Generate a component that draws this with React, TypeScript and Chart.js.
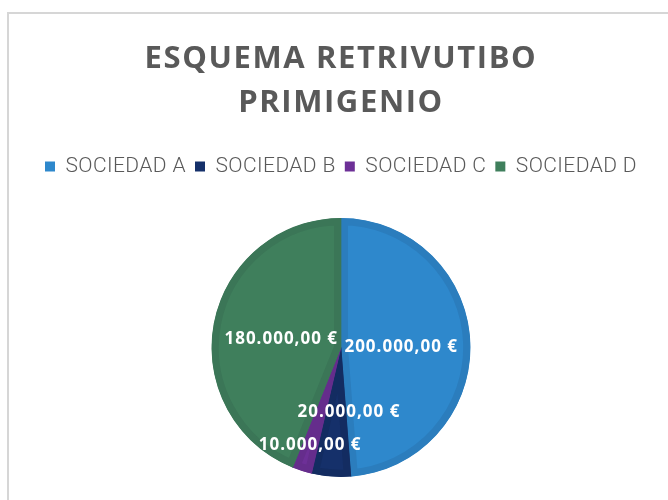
import React, { useEffect, useRef } from "react";
import { Chart, registerables } from "chart.js";

Chart.register(...registerables);

const CATEGORIES = ["SOCIEDAD A", "SOCIEDAD B", "SOCIEDAD C", "SOCIEDAD D"];
const VALUES = [200000, 20000, 10000, 180000];
const COLORS = ["#2E88CC", "#15306A", "#6D3097", "#3F7F5C"];
const BORDER_COLORS = ["#2B7DBD", "#132C61", "#652D8C", "#3B7657"];
const TITLE_LINES = ["ESQUEMA RETRIVUTIBO", "PRIMIGENIO"];
const LABEL_RADIUS = [0.465, 0.5, 0.79, 0.466];
const LABEL_ANGLE_SHIFT = [2, -11.5, 0, -3];

const formatEuro = (v: number) => {
  const [i, d] = v.toFixed(2).split(".");
  return i.replace(/\B(?=(\d{3})+(?!\d))/g, ".") + "," + d + " €";
};

const sliceLabels = {
  id: "sliceLabels",
  afterDatasetsDraw(chart: any) {
    const ctx = chart.ctx;
    const meta = chart.getDatasetMeta(0);
    ctx.save();
    ctx.font = "bold 17px 'Open Sans'";
    (ctx as any).letterSpacing = "1px";
    ctx.fillStyle = "#FFFFFF";
    ctx.textAlign = "center";
    ctx.textBaseline = "middle";
    meta.data.forEach((arc: any, i: number) => {
      const p = arc.getProps(["x", "y", "startAngle", "endAngle", "outerRadius"], true);
      const mid = (p.startAngle + p.endAngle) / 2 + (LABEL_ANGLE_SHIFT[i] * Math.PI) / 180;
      const r = p.outerRadius * LABEL_RADIUS[i];
      ctx.fillText(formatEuro(VALUES[i]), p.x + Math.cos(mid) * r, p.y + Math.sin(mid) * r);
    });
    ctx.restore();
  },
};

const withSpacing = (obj: any, key: string, spacing: string) => {
  const orig = obj[key];
  obj[key] = function (...args: any[]) {
    const ctx = this.ctx;
    ctx.save();
    (ctx as any).letterSpacing = spacing;
    const res = orig.apply(this, args);
    ctx.restore();
    return res;
  };
};

const boxTweaks = {
  id: "boxTweaks",
  beforeInit(chart: any) {
    const legend = chart.legend;
    if (legend) {
      const origFit = legend.fit;
      legend.fit = function () {
        const ctx = this.ctx;
        ctx.save();
        (ctx as any).letterSpacing = "0.4px";
        origFit.call(this);
        ctx.restore();
        this.height += 31;
      };
      withSpacing(legend, "draw", "0.4px");
    }
    const title = chart.titleBlock;
    if (title) withSpacing(title, "draw", "1.6px");
  },
};

export default function App() {
  const ref = useRef<HTMLCanvasElement | null>(null);
  useEffect(() => {
    if (!ref.current) return;
    const chart = new Chart(ref.current, {
      type: "pie",
      data: {
        labels: CATEGORIES,
        datasets: [
          {
            data: VALUES,
            backgroundColor: COLORS,
            borderColor: BORDER_COLORS,
            borderWidth: 7,
            borderAlign: "inner",
            hoverOffset: 0,
            offset: 0,
          } as any,
        ],
      },
      options: {
        responsive: false,
        animation: false,
        events: [],
        layout: { padding: { top: 0, bottom: 23, left: 0, right: 0 } },
        plugins: {
          title: {
            display: true,
            text: TITLE_LINES,
            color: "#595959",
            font: { family: "'Open Sans'", size: 31, weight: "bold", lineHeight: "44px" } as any,
            padding: { top: 37, bottom: 22 },
          },
          legend: {
            display: true,
            position: "top",
            labels: {
              color: "#595959",
              font: { family: "Roboto", size: 21, weight: "300" } as any,
              boxWidth: 10,
              boxHeight: 10,
              padding: 9,
              generateLabels: (c: any) => {
                const items = (Chart as any).overrides.pie.plugins.legend.labels.generateLabels(c);
                return items.map((it: any, i: number) => ({
                  ...it,
                  fillStyle: COLORS[i],
                  strokeStyle: COLORS[i],
                  lineWidth: 0,
                }));
              },
            },
          },
          tooltip: { enabled: false },
        },
      },
      plugins: [sliceLabels, boxTweaks],
    });
    return () => chart.destroy();
  }, []);

  return (
    <div style={{ position: "fixed", left: 0, top: 0, width: 668, height: 500, overflow: "hidden", background: "#fff" }}>
      <div
        style={{
          position: "absolute",
          left: 7,
          top: 12,
          width: 800,
          height: 800,
          borderLeft: "2px solid #D6D6D6",
          borderTop: "2px solid #D6D6D6",
        }}
      />
      <canvas ref={ref} width={668} height={500} style={{ position: "absolute", left: 7, top: 0, width: 668, height: 500 }} />
    </div>
  );
}
